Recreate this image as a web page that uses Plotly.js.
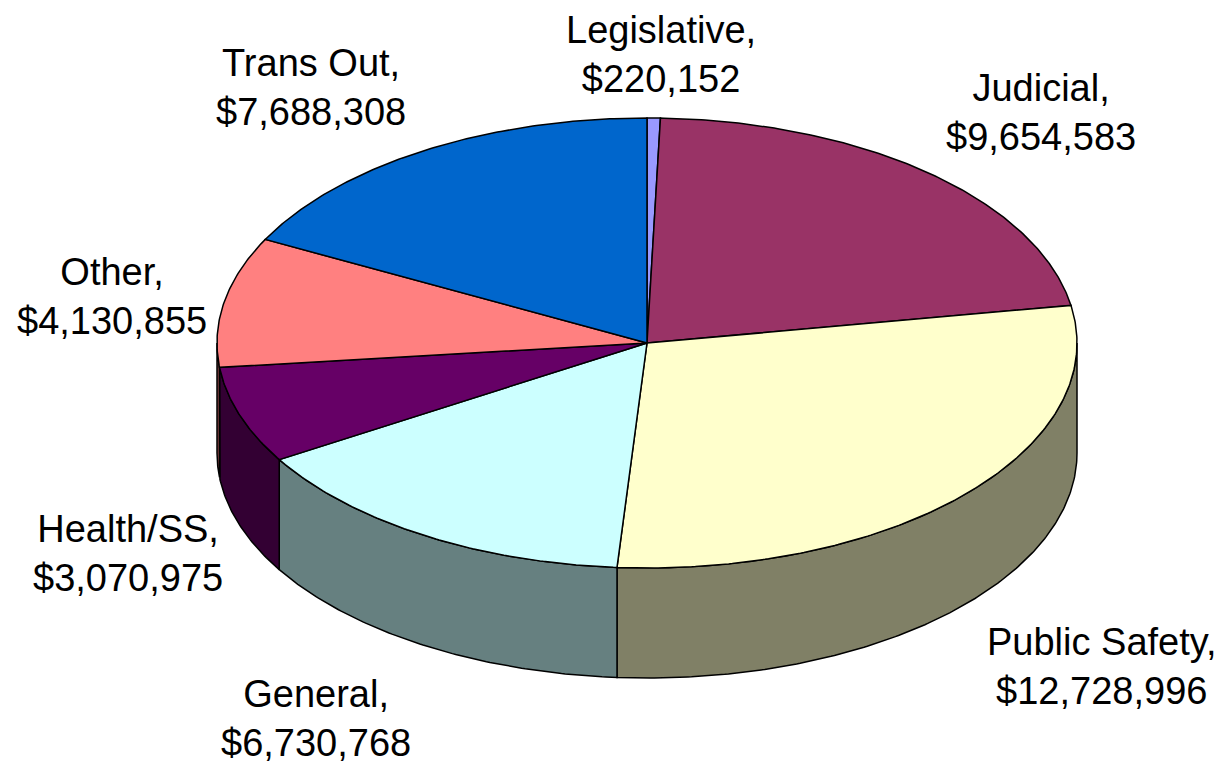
<!DOCTYPE html>
<html>
<head>
<meta charset="utf-8">
<script src="https://cdn.plot.ly/plotly-3.0.1.min.js"></script>
<style>html,body{margin:0;padding:0;background:#fff;}#chart{width:1228px;height:763px;}</style>
</head>
<body>
<div id="chart"></div>
<script>
// ---- data ----
const categories = ["Legislative", "Judicial", "Public Safety", "General", "Health/SS", "Other", "Trans Out"];
const amounts = [220152, 9654583, 12728996, 6730768, 3070975, 4130855, 7688308];
const topColors = ["#9999FF", "#993366", "#FFFFCC", "#CCFFFF", "#660066", "#FF8080", "#0066CC"];
const sideColors = ["#4D4D80", "#4D1A33", "#808066", "#668080", "#330033", "#804040", "#003366"];
// label anchor positions (pixel space of the plot)
const labelX = [661, 1041, 1102, 316, 128, 112, 311];
const labelY = [54, 112, 666, 718, 553, 296, 87];

// ---- geometry of the tilted pie ----
const W = 1228, H = 763;
const cx = 647, cy = 343, rx = 430, ry = 225, depth = 110;
const rad = d => d * Math.PI / 180;
const px = a => cx + rx * Math.sin(rad(a));
const py = a => cy - ry * Math.cos(rad(a));

const total = amounts.reduce((s, v) => s + v, 0);
const starts = [], ends = [];
let acc = 0;
amounts.forEach(v => { starts.push(acc / total * 360); acc += v; ends.push(acc / total * 360); });

function arc(a0, a1, dy) {
  const n = Math.max(2, Math.ceil((a1 - a0) / 0.5));
  const xs = [], ys = [];
  for (let i = 0; i <= n; i++) {
    const a = a0 + (a1 - a0) * i / n;
    xs.push(px(a)); ys.push(py(a) + dy);
  }
  return [xs, ys];
}

const traces = [];
// side walls (visible front half: 90..270 degrees)
categories.forEach((c, i) => {
  const lo = Math.max(starts[i], 90), hi = Math.min(ends[i], 270);
  if (hi <= lo) return;
  const [tx, ty] = arc(lo, hi, 0);
  const [bx, by] = arc(lo, hi, depth);
  traces.push({
    type: "scatter", mode: "lines", fill: "toself",
    x: tx.concat(bx.reverse(), [tx[0]]),
    y: ty.concat(by.reverse(), [ty[0]]),
    fillcolor: sideColors[i], line: { color: "#000", width: 1.5 },
    hoverinfo: "skip", showlegend: false
  });
});
// top faces
categories.forEach((c, i) => {
  const [tx, ty] = arc(starts[i], ends[i], 0);
  traces.push({
    type: "scatter", mode: "lines", fill: "toself",
    x: [cx].concat(tx, [cx]),
    y: [cy].concat(ty, [cy]),
    fillcolor: topColors[i], line: { color: "#000", width: 1.5 },
    name: c, hoverinfo: "name", showlegend: false
  });
});

const annotations = categories.map((c, i) => ({
  x: labelX[i], y: labelY[i], xref: "x", yref: "y",
  text: c + ",<br>$" + amounts[i].toLocaleString("en-US"),
  showarrow: false, xanchor: "center", yanchor: "middle",
  font: { family: "Liberation Sans, Arial, sans-serif", size: 38, color: "#000" }
}));

const layout = {
  width: W, height: H,
  margin: { l: 0, r: 0, t: 0, b: 0 },
  paper_bgcolor: "#fff", plot_bgcolor: "#fff",
  xaxis: { range: [0, W], visible: false, fixedrange: true },
  yaxis: { range: [H, 0], visible: false, fixedrange: true },
  annotations: annotations,
  showlegend: false
};
Plotly.newPlot("chart", traces, layout, { displayModeBar: false, staticPlot: true });
</script>
</body>
</html>
